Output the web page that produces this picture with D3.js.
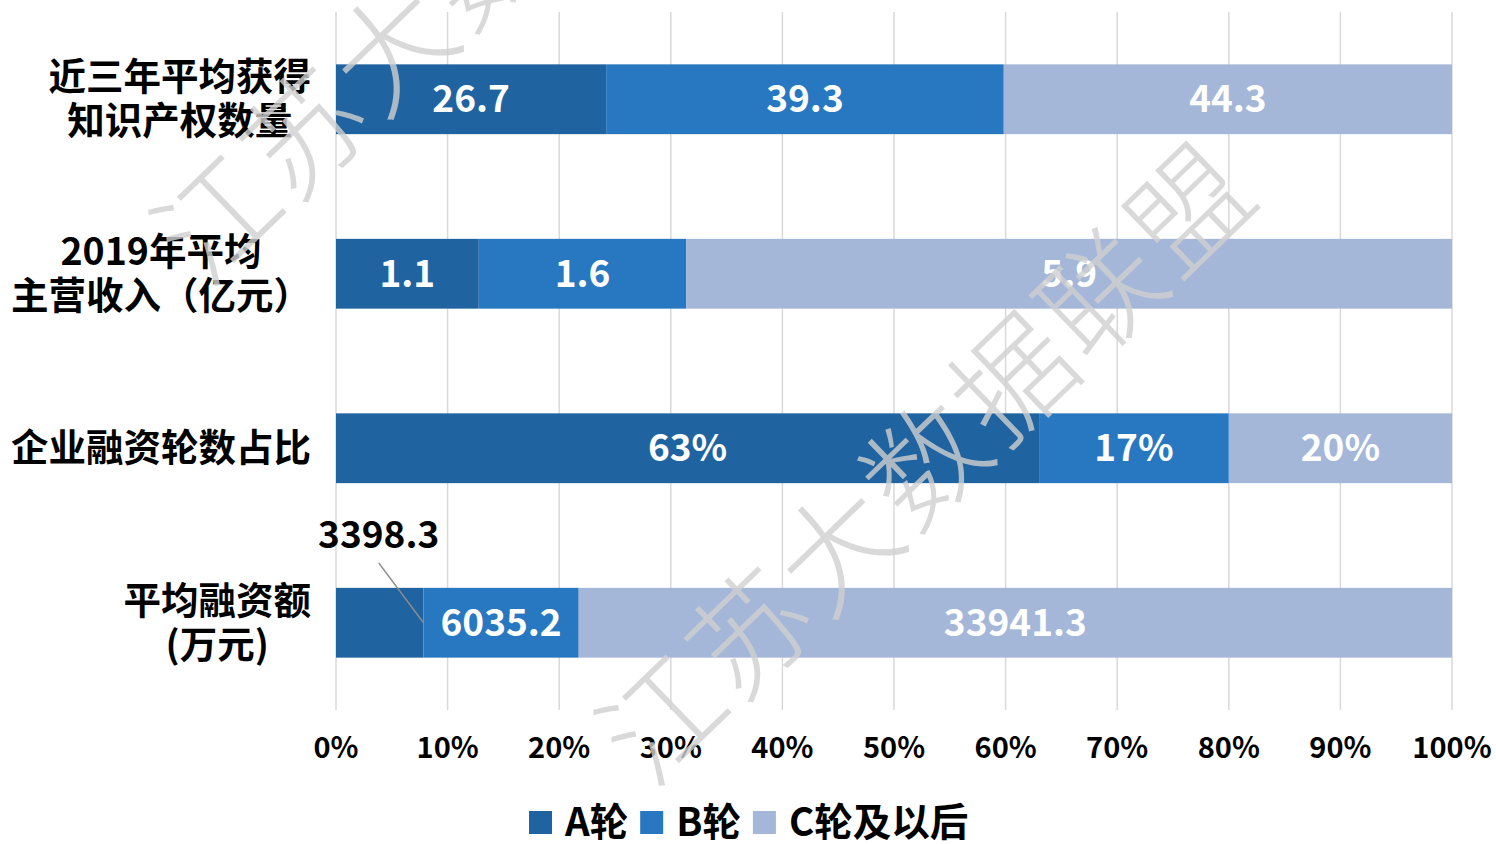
<!DOCTYPE html>
<html>
<head>
<meta charset="utf-8">
<script src="https://cdn.jsdelivr.net/npm/d3@7"></script>
<style>
  body { margin: 0; background: #fff; }
  text { font-family: "Noto Sans CJK SC", "Noto Sans", sans-serif; }
</style>
</head>
<body>
<svg id="chart" width="1496" height="844"></svg>
<script>
// data
let categories = ["近三年平均获得|知识产权数量", "2019年平均|主营收入（亿元）", "企业融资轮数占比", "平均融资额|(万元)"];
let seriesNames = ["A轮", "B轮", "C轮及以后"];
let aValues = [26.7, 1.1, 63, 3398.3];
let bValues = [39.3, 1.6, 17, 6035.2];
let cValues = [44.3, 5.9, 20, 33941.3];
let valueSuffix = ["", "", "%", ""];
let tickValues = [0, 0.1, 0.2, 0.3, 0.4, 0.5, 0.6, 0.7, 0.8, 0.9, 1];
let colors = ["#1f63a0", "#2778c1", "#a4b7d9"];
let watermark = "江苏大数据联盟";

let svg = d3.select("#chart"),
    margin = {top: 12, left: 336, right: 44, bottom: 134},
    width = +svg.attr("width"),
    height = +svg.attr("height");

let data = categories.map((c, i) => ({cat: c, "A轮": aValues[i], "B轮": bValues[i], "C轮及以后": cValues[i], idx: i}));

let stacked = d3.stack().keys(seriesNames).offset(d3.stackOffsetExpand)(data);

let x = d3.scaleLinear().domain([0, 1]).range([margin.left, width - margin.right]);
let y = d3.scaleBand().domain(categories)
    .range([margin.top, height - margin.bottom])
    .paddingInner(0.6)
    .paddingOuter(0.3);
let z = d3.scaleOrdinal().domain(seriesNames).range(colors);

// gridlines
svg.append("g").attr("class", "grid")
    .selectAll("line").data(tickValues).join("line")
    .attr("x1", d => x(d)).attr("x2", d => x(d))
    .attr("y1", margin.top).attr("y2", height - margin.bottom)
    .attr("stroke", "#d9d9d9").attr("stroke-width", 1.5);

// bars
let layer = svg.selectAll("g.layer").data(stacked).join("g")
    .attr("class", "layer")
    .attr("fill", d => z(d.key));

layer.selectAll("rect").data(d => d).join("rect")
    .attr("x", d => x(d[0]))
    .attr("y", d => y(d.data.cat))
    .attr("width", d => x(d[1]) - x(d[0]))
    .attr("height", y.bandwidth());

// value labels
layer.each(function (s) {
    d3.select(this).selectAll("text").data(s).join("text")
        .each(function (d) {
            let v = d.data[s.key];
            let t = d3.select(this)
                .attr("font-size", 37).attr("font-weight", 700)
                .attr("text-anchor", "middle")
                .text(v + valueSuffix[d.data.idx]);
            let cx = (x(d[0]) + x(d[1])) / 2;
            let cy = y(d.data.cat) + y.bandwidth() / 2;
            if (x(d[1]) - x(d[0]) < 100) {
                // small segment: label above with leader line
                let lx = cx - 1;
                let ly = y(d.data.cat) - 53;
                t.attr("x", lx).attr("y", ly + 13).attr("fill", "#000");
                svg.append("line")
                    .attr("x1", lx).attr("y1", ly + 28)
                    .attr("x2", x(d[1])).attr("y2", cy)
                    .attr("stroke", "#8c8c8c").attr("stroke-width", 1.5);
            } else {
                t.attr("x", cx).attr("y", cy + 13).attr("fill", "#fff");
            }
        });
});

// x axis labels
svg.append("g").attr("class", "x-axis")
    .selectAll("text").data(tickValues).join("text")
    .attr("x", d => x(d)).attr("y", 758)
    .attr("text-anchor", "middle")
    .attr("font-size", 29).attr("font-weight", 700)
    .attr("fill", "#000")
    .text(d3.format(".0%"));

// y labels, each block centred on its longest line, right edge at 310
let yLabels = svg.append("g").attr("class", "y-axis");
categories.forEach(function (c) {
    let lines = c.split("|");
    let g = yLabels.append("g");
    let texts = g.selectAll("text").data(lines).join("text")
        .attr("font-size", 37.5).attr("font-weight", 700).attr("fill", "#000")
        .attr("text-anchor", "middle")
        .attr("y", (d, i) => y(c) + y.bandwidth() / 2 + (i - (lines.length - 1) / 2) * 44 + 13)
        .text(d => d);
    let maxW = d3.max(texts.nodes(), n => n.getComputedTextLength());
    texts.attr("x", 311 - maxW / 2);
});

// legend
let legend = svg.append("g").attr("class", "legend");
let lx = 529;
seriesNames.forEach(function (s) {
    legend.append("rect")
        .attr("x", lx).attr("y", 811).attr("width", 23).attr("height", 23)
        .attr("fill", z(s));
    let t = legend.append("text")
        .attr("x", lx + 36).attr("y", 836)
        .attr("font-size", 38.5).attr("font-weight", 700).attr("fill", "#000")
        .text(s);
    lx += 36 + t.node().getComputedTextLength() + 12;
});

// watermark
let wm = svg.append("g").attr("class", "watermark").attr("pointer-events", "none");
[[205, 290], [650, 790]].forEach(function (p) {
    wm.append("text")
        .attr("transform", `translate(${p[0]},${p[1]}) rotate(-44)`)
        .attr("font-size", 118).attr("font-weight", 300)
        .attr("fill", "#d0d0d0").attr("opacity", 0.8)
        .attr("letter-spacing", 4)
        .text(watermark);
});
</script>
</body>
</html>
